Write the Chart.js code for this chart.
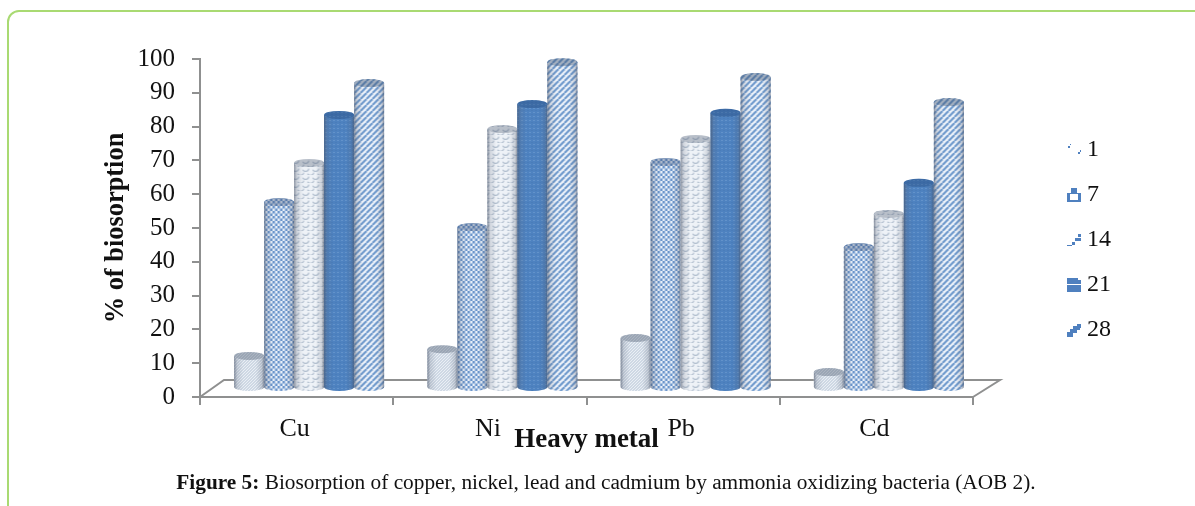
<!DOCTYPE html>
<html><head><meta charset="utf-8">
<style>
html,body{margin:0;padding:0;background:#fff;overflow:hidden;width:1195px;height:506px}
#frame{position:absolute;left:7px;top:10px;width:1300px;height:600px;border:2px solid #a9da72;border-radius:12px;box-sizing:border-box}
#c{position:absolute;left:0;top:0}
#cap{position:absolute;left:0;top:470px;width:1212px;text-align:center;font:21.3px "Liberation Serif",serif;color:#111;white-space:nowrap}
</style>
<script src="https://cdn.jsdelivr.net/npm/chart.js@4/dist/chart.umd.js"></script>
</head><body>
<div id="frame"></div>
<canvas id="c" width="1195" height="506"></canvas>
<div id="cap"><b>Figure 5:</b> Biosorption of copper, nickel, lead and cadmium by ammonia oxidizing bacteria (AOB 2).</div>
<script>
const categories = ["Cu","Ni","Pb","Cd"];
const seriesLabels = ["1","7","14","21","28"];
const day1  = [9.5, 11.5, 14.8, 4.7];
const day7  = [55, 47.6, 66.9, 41.7];
const day14 = [66.6, 76.6, 73.7, 51.5];
const day21 = [80.8, 84, 81.4, 60.7];
const day28 = [90.2, 96.4, 92, 84.6];
const serif = '"Liberation Serif", serif';
const GRAY = '#8f9090';

function tile(w,h,paint){const c=document.createElement('canvas');c.width=w;c.height=h;paint(c.getContext('2d'),w,h);return c;}
const ctxMain=document.getElementById('c').getContext('2d');
function pat(t){return ctxMain.createPattern(t,'repeat');}
function diag(x,col,lw,w,off){x.strokeStyle=col;x.lineWidth=lw;for(let i=-w;i<=2*w;i+=w){x.beginPath();x.moveTo(i+off,w);x.lineTo(i+off+w,0);x.stroke();}}
const t1=tile(3,3,(x,w,h)=>{x.fillStyle='#eaeff5';x.fillRect(0,0,w,h);diag(x,'#b3c1d3',1,3,0);});
const t2=tile(5,5,(x,w,h)=>{x.fillStyle='#e9f0f9';x.fillRect(0,0,w,h);x.fillStyle='#6a94cb';x.fillRect(0,0,2.5,2.5);x.fillRect(2.5,2.5,2.5,2.5);});
const t3=tile(10,8,(x,w,h)=>{x.fillStyle='#eef2f7';x.fillRect(0,0,w,h);x.strokeStyle='#b2bfcf';x.lineWidth=1.2;
  x.beginPath();x.arc(3,1,3.4,0.2,2.6);x.stroke();x.beginPath();x.arc(8,5,3.4,0.2,2.6);x.stroke();x.beginPath();x.arc(-2,5,3.4,0.2,2.6);x.stroke();});
const t4=tile(4,4,(x,w,h)=>{x.fillStyle='#4e82c0';x.fillRect(0,0,w,h);x.fillStyle='#76a2d4';x.fillRect(1,1,1,1);x.fillStyle='#4678b4';x.fillRect(3,3,1,1);});
const t5=tile(6,6,(x,w,h)=>{x.fillStyle='#eef3fa';x.fillRect(0,0,w,h);diag(x,'#6e99cc',2.1,6,0);});
const fills=[pat(t1),pat(t2),pat(t3),pat(t4),pat(t5)];
const topShade=['rgba(70,85,105,.38)','rgba(60,80,115,.35)','rgba(70,85,105,.32)','rgba(25,60,110,.32)','rgba(60,80,110,.42)'];

const B='#4f80bf';
function icon(cells){return tile(14,14,x=>{x.fillStyle=B;cells.forEach(r=>x.fillRect(r[0],r[1],r[2],r[3]));});}
const icons=[
 icon([[1,3,2,2],[3,1,1,1],[11,9,2,2],[13,7,1,2]]),
 icon([[4,0,6,5],[0,5,14,1],[0,6,3,8],[11,6,3,8],[3,12,8,2]]),
 icon([[11,1,3,3],[8,5,4,3],[5,9,3,3],[0,12,5,1],[12,5,2,3]]),
 icon([[0,0,11,6],[11,2,3,4],[0,7,14,7]]),
 icon([[10,1,4,4],[6,3,7,4],[3,6,7,4],[0,9,6,5]])
];

const floorPlugin={
 id:'cylinder3d',
 afterLayout(chart){
  const l=chart.legend;const w=l.right-l.left,h=l.bottom-l.top;
  l.left=1052;l.right=l.left+w;l.top=117;l.bottom=l.top+h;
 },
 beforeDatasetsDraw(chart){
  const c=chart.ctx,a=chart.chartArea;
  c.save();c.strokeStyle=GRAY;c.lineWidth=2;c.beginPath();
  c.moveTo(a.left,a.bottom);c.lineTo(a.left+24,a.bottom-17);c.lineTo(a.right+27,a.bottom-17);c.lineTo(a.right,a.bottom);c.stroke();c.restore();
  c.save();c.translate(12.5,-9);
 },
 afterDatasetsDraw(chart){
  const c=chart.ctx;const ry=4;
  chart.data.datasets.forEach((ds,di)=>{
   chart.getDatasetMeta(di).data.forEach(bar=>{
    const rx=bar.width/2,x=bar.x,y=bar.y,b=bar.base;
    c.save();
    c.beginPath();c.rect(x-rx,y,2*rx,b-y);c.ellipse(x,b,rx,ry,0,0,Math.PI);c.closePath();
    c.fillStyle=ds.backgroundColor;c.fill();
    const g=c.createLinearGradient(x-rx,0,x+rx,0);
    g.addColorStop(0,'rgba(70,80,100,.6)');g.addColorStop(.1,'rgba(90,100,120,.2)');g.addColorStop(.3,'rgba(90,100,120,0)');
    g.addColorStop(.72,'rgba(90,100,120,0)');g.addColorStop(.92,'rgba(80,90,110,.22)');g.addColorStop(1,'rgba(70,80,100,.6)');
    c.fillStyle=g;c.fill();
    c.beginPath();c.ellipse(x,y,rx,ry,0,0,2*Math.PI);
    c.fillStyle=ds.backgroundColor;c.fill();c.fillStyle=topShade[di];c.fill();
    c.restore();
   });
  });
  c.restore();
 }
};

function mk(label,data,i){return {label,data,backgroundColor:fills[i],borderWidth:0,categoryPercentage:0.776,barPercentage:1,clip:false};}
new Chart(ctxMain,{
 type:'bar',
 data:{labels:categories,datasets:[mk(seriesLabels[0],day1,0),mk(seriesLabels[1],day7,1),mk(seriesLabels[2],day14,2),mk(seriesLabels[3],day21,3),mk(seriesLabels[4],day28,4)]},
 plugins:[floorPlugin],
 options:{
  responsive:false,animation:false,
  layout:{padding:{left:100,top:59,bottom:50,right:153}},
  plugins:{
   tooltip:{enabled:false},
   legend:{position:'right',align:'start',labels:{
    font:{family:serif,size:24},color:'#111',usePointStyle:true,pointStyleWidth:2,padding:21,
    generateLabels(chart){return chart.data.datasets.map((d,i)=>({text:d.label,datasetIndex:i,pointStyle:icons[i],fillStyle:B,strokeStyle:B,lineWidth:0,fontColor:'#111'}));}
   }}
  },
  scales:{
   x:{
    afterFit(s){s.height=59;},
    border:{color:GRAY,width:2},
    grid:{drawOnChartArea:false,drawTicks:true,tickLength:8,color:GRAY,lineWidth:2},
    ticks:{font:{family:serif,size:26},color:'#111',padding:9,maxRotation:0,labelOffset:-2},
    title:{display:true,text:'Heavy metal',font:{family:serif,size:27,weight:'bold'},color:'#111',padding:0}
   },
   y:{
    min:0,max:100,
    afterFit(s){s.width=100;},
    border:{color:GRAY,width:2},
    grid:{drawOnChartArea:false,drawTicks:true,tickLength:8,color:GRAY,lineWidth:2},
    ticks:{stepSize:10,font:{family:serif,size:25},color:'#111',padding:17,autoSkip:false},
    title:{display:true,text:'% of biosorption',font:{family:serif,size:26.4,weight:'bold'},color:'#111',padding:0}
   }
  }
 }
});
</script>
</body></html>
